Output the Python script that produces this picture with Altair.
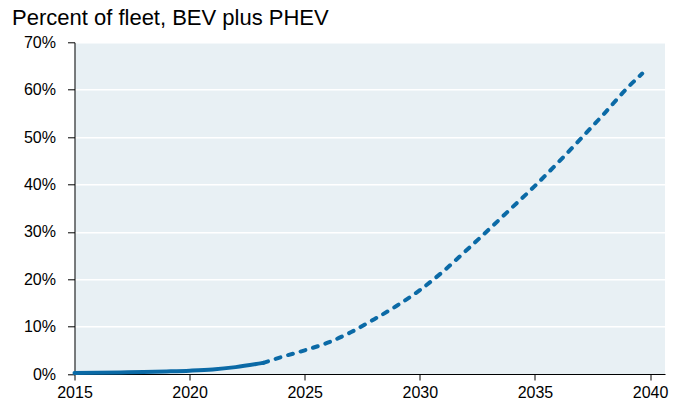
import altair as alt
import pandas as pd

title_text = ["EV adoption under policy"]
subtitle_text = ["Percent of fleet, BEV plus PHEV"]

hist_years = [2015, 2016, 2017, 2018, 2019, 2020, 2021, 2022, 2023.2]
hist_share = [0.2, 0.25, 0.33, 0.43, 0.55, 0.7, 0.95, 1.45, 2.35]

proj_years = [2023.2, 2024, 2025, 2026, 2027, 2028, 2029, 2030, 2031, 2032,
              2033, 2034, 2035, 2036, 2037, 2038, 2039, 2039.66]
proj_share = [2.35, 3.6, 5.0, 6.6, 8.8, 11.5, 14.4, 17.7, 21.6, 26.0,
              30.5, 35.1, 39.7, 44.6, 49.7, 54.9, 60.3, 63.4]

x_ticks = [2015, 2020, 2025, 2030, 2035, 2040]
y_ticks = [0, 10, 20, 30, 40, 50, 60, 70]

hist = pd.DataFrame({"year": hist_years, "share": hist_share})
proj = pd.DataFrame({"year": proj_years, "share": proj_share})

LINE = "#0B6AA6"
FONT = "Liberation Sans"

x_enc = alt.X(
    "year:Q",
    scale=alt.Scale(domain=[2015, 2040.65], nice=False, zero=False),
    axis=alt.Axis(values=x_ticks, format="d", title=None, grid=False,
                  labelFontSize=16, labelFont=FONT, labelColor="black",
                  domainColor="black", tickColor="black", tickSize=6,
                  labelPadding=4, labelFlush=False),
)
y_enc = alt.Y(
    "share:Q",
    scale=alt.Scale(domain=[0, 70], nice=False),
    axis=alt.Axis(values=y_ticks, labelExpr="datum.value + '%'", title=None,
                  grid=True, gridColor="white", gridWidth=1.5,
                  labelFontSize=16, labelFont=FONT, labelColor="black",
                  domainColor="black", tickColor="black", tickSize=7,
                  labelPadding=12),
)

hist_line = alt.Chart(hist).mark_line(
    color=LINE, strokeWidth=4, interpolate="monotone", strokeCap="round"
).encode(x=x_enc, y=y_enc)

proj_line = alt.Chart(proj).mark_line(
    color=LINE, strokeWidth=4, interpolate="monotone", strokeCap="round",
    strokeDash=[5, 8]
).encode(x="year:Q", y="share:Q")

sub = alt.Chart(pd.DataFrame({"t": subtitle_text})).mark_text(
    align="left", baseline="alphabetic", fontSize=22, font=FONT, color="black"
).encode(x=alt.value(-62.5), y=alt.value(-17.3), text="t:N")

ttl = alt.Chart(pd.DataFrame({"t": title_text})).mark_text(
    align="left", baseline="alphabetic", fontSize=21, fontWeight="bold",
    font=FONT, color="black"
).encode(x=alt.value(258.5), y=alt.value(-40.6), text="t:N")

chart = alt.layer(hist_line, proj_line, sub, ttl).properties(
    width=590.5, height=331.7,
    autosize=alt.AutoSizeParams(type="none"),
    padding={"left": 66.5, "top": 34.3, "right": 5, "bottom": 28},
).configure_view(fill="#E8F0F4", strokeWidth=0)

chart.save("out.html", embed_options={"renderer": "svg", "actions": False})
